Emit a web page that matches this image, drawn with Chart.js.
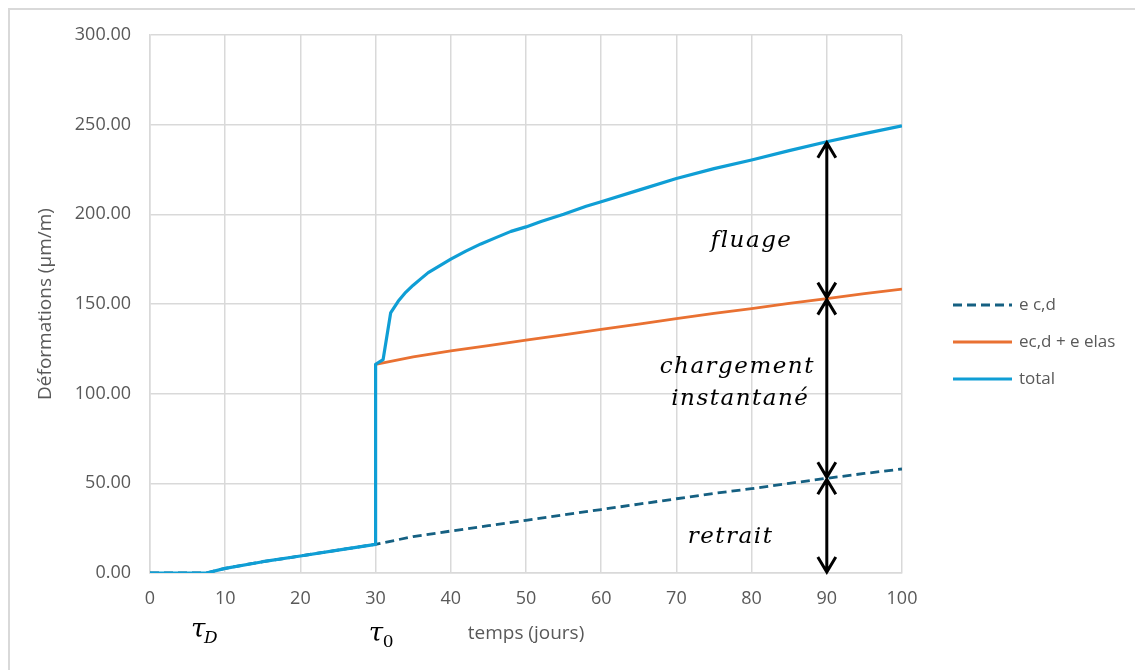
<!DOCTYPE html>
<html lang="fr">
<head>
    <meta charset="UTF-8">
    <title>Déformations</title>
    <script src="https://cdn.jsdelivr.net/npm/chart.js"></script>
    <style>
        body {
            margin: 0;
            background: #fff;
        }
        .conter {
            position: relative;
            width: 1135px;
            height: 670px;
            overflow: hidden;
        }
        /* cadre gris du graphique Excel */
        .cadre {
            position: absolute;
            left: 8px;
            top: 8px;
            width: 1200px;
            height: 700px;
            border-top: 2px solid #d9d9d9;
            border-left: 2px solid #d9d9d9;
            pointer-events: none;
        }
    </style>
</head>
<body>

<div class="conter">
    <canvas id="deformations" width="1135" height="670"></canvas>
    <div class="cadre"></div>
</div>

<script>
    // retrait de dessiccation e c,d (µm/m)
    const joursRetrait = [0, 7.5, 10, 15, 20, 25, 30, 35, 40, 45, 50, 55, 60, 65, 70, 75, 80, 85, 90, 95, 100];
    const eRetrait = [0, 0, 2.6, 6.3, 9.5, 12.8, 16, 20.3, 23.4, 26.4, 29.4, 32.4, 35.4, 38.4, 41.4, 44.4, 47, 50, 52.8, 55.5, 58];

    // retrait + déformation élastique, à partir du chargement
    const joursCharge = [30, 35, 40, 45, 50, 55, 60, 65, 70, 75, 80, 85, 90, 95, 100];
    const eCharge = [116.4, 120.5, 123.8, 126.8, 129.8, 132.8, 135.8, 138.8, 141.8, 144.8, 147.4, 150.3, 153, 155.8, 158.3];

    // déformation totale (retrait + élastique + fluage)
    const joursTotal = [0, 7.5, 10, 15, 20, 25, 30, 30, 31, 32, 33, 34, 35, 36, 37, 38, 40, 42, 44, 46, 48, 50, 52, 55, 58, 60, 65, 70, 75, 80, 85, 90, 95, 100];
    const eTotal = [0, 0, 2.6, 6.3, 9.5, 12.8, 16, 116.4, 119, 145, 151.5, 156.5, 160.5, 164, 167.5, 170, 175, 179.5, 183.5, 187, 190.5, 193, 196, 200, 204.5, 207, 213.5, 220, 225.5, 230.3, 235.5, 240.5, 245, 249.3];

    const xTicks = [0, 10, 20, 30, 40, 50, 60, 70, 80, 90, 100];
    const yTicks = [0, 50, 100, 150, 200, 250, 300];

    const jourFleches = 90;
    const tauD = 7.3;
    const tau0 = 30.7;

    const gris = '#595959';
    const police = "'Open Sans', sans-serif";

    function points(xs, ys) {
        return xs.map((v, i) => ({x: v, y: ys[i]}));
    }

    function valeurA(xs, ys, jour) {
        return ys[xs.lastIndexOf(jour)];
    }

    // flèche verticale à double pointe ouverte
    function fleche(ctx, x, yHaut, yBas) {
        const d = 9, h = 16;
        ctx.beginPath();
        ctx.moveTo(x, yHaut + 1);
        ctx.lineTo(x, yBas - 1);
        ctx.moveTo(x - d, yHaut + h);
        ctx.lineTo(x, yHaut + 1);
        ctx.lineTo(x + d, yHaut + h);
        ctx.moveTo(x - d, yBas - h);
        ctx.lineTo(x, yBas - 1);
        ctx.lineTo(x + d, yBas - h);
        ctx.stroke();
    }

    const annotations = {
        id: 'annotations',
        afterDatasetsDraw(chart) {
            const ctx = chart.ctx;
            const x = chart.scales.x, y = chart.scales.y;
            const px = x.getPixelForValue(jourFleches);
            const y0 = y.getPixelForValue(0);
            const yR = y.getPixelForValue(valeurA(joursRetrait, eRetrait, jourFleches));
            const yC = y.getPixelForValue(valeurA(joursCharge, eCharge, jourFleches));
            const yT = y.getPixelForValue(valeurA(joursTotal, eTotal, jourFleches));

            ctx.save();
            ctx.strokeStyle = '#000';
            ctx.lineWidth = 3;
            ctx.lineJoin = 'miter';
            fleche(ctx, px, yT, yC);
            fleche(ctx, px, yC, yR);
            fleche(ctx, px, yR, y0);

            ctx.fillStyle = '#000';
            ctx.font = "italic 23px 'DejaVu Serif'";
            ctx.letterSpacing = '1.5px';
            ctx.textAlign = 'center';
            ctx.textBaseline = 'middle';
            ctx.fillText('fluage', x.getPixelForValue(80), y.getPixelForValue(185));
            ctx.fillText('chargement', x.getPixelForValue(78.1), y.getPixelForValue(115));
            ctx.fillText('instantané', x.getPixelForValue(78.5), y.getPixelForValue(97));
            ctx.fillText('retrait', x.getPixelForValue(77.2), y.getPixelForValue(20));

            // repères temporels sous l'axe
            ctx.letterSpacing = '0px';
            ctx.textAlign = 'left';
            ctx.textBaseline = 'alphabetic';
            const base = chart.chartArea.bottom + 64;
            let t = x.getPixelForValue(tauD) - 14;
            ctx.font = "italic 26px 'DejaVu Serif'";
            ctx.fillText('τ', t, base);
            ctx.font = "italic 17px 'DejaVu Serif'";
            ctx.fillText('D', t + 13, base + 6);
            t = x.getPixelForValue(tau0) - 12;
            ctx.font = "italic 26px 'DejaVu Serif'";
            ctx.fillText('τ', t, base + 4);
            ctx.font = "17px 'DejaVu Serif'";
            ctx.fillText('0', t + 14, base + 10);
            ctx.restore();
        }
    };

    // légende à droite, façon Excel
    const legende = {
        id: 'legende',
        afterDraw(chart) {
            const ctx = chart.ctx;
            const x0 = 953, longueur = 59, y0 = 305, pas = 37;
            ctx.save();
            ctx.font = '17px ' + police;
            ctx.textBaseline = 'middle';
            chart.data.datasets.forEach((ds, i) => {
                const yy = y0 + i * pas;
                ctx.strokeStyle = ds.borderColor;
                ctx.lineWidth = ds.borderWidth;
                ctx.setLineDash(ds.borderDash || []);
                ctx.beginPath();
                ctx.moveTo(x0, yy);
                ctx.lineTo(x0 + longueur, yy);
                ctx.stroke();
                ctx.fillStyle = gris;
                ctx.fillText(ds.label, x0 + longueur + 7, yy);
            });
            ctx.restore();
        }
    };

    const ctxDef = document.getElementById('deformations').getContext('2d');
    new Chart(ctxDef, {
        type: 'line',
        data: {
            datasets: [{
                label: 'e c,d',
                data: points(joursRetrait, eRetrait),
                borderColor: '#156082',
                borderWidth: 2.8,
                borderDash: [9, 5],
                order: 2
            }, {
                label: 'ec,d + e elas',
                data: points(joursCharge, eCharge),
                borderColor: '#E97132',
                borderWidth: 2.8,
                order: 1
            }, {
                label: 'total',
                data: points(joursTotal, eTotal),
                borderColor: '#0F9ED5',
                borderWidth: 3.2,
                order: 0
            }]
        },
        options: {
            responsive: false,
            animation: false,
            elements: {
                point: {radius: 0},
                line: {tension: 0, borderJoinStyle: 'round'}
            },
            layout: {
                padding: {left: 34, top: 35, right: 233, bottom: 25}
            },
            plugins: {
                legend: {display: false},
                tooltip: {enabled: false}
            },
            scales: {
                x: {
                    type: 'linear',
                    min: 0,
                    max: 100,
                    afterBuildTicks: s => { s.ticks = xTicks.map(v => ({value: v})); },
                    afterFit: s => { s.height = 72; },
                    grid: {color: '#d9d9d9', lineWidth: 1.5, drawTicks: false},
                    border: {color: '#d9d9d9', width: 1.5},
                    ticks: {color: gris, font: {family: police, size: 18}, padding: 15, maxRotation: 0},
                    title: {display: true, text: 'temps (jours)', color: gris, font: {family: police, size: 19}, padding: 0}
                },
                y: {
                    min: 0,
                    max: 300,
                    afterBuildTicks: s => { s.ticks = yTicks.map(v => ({value: v})); },
                    afterFit: s => { s.width = 116; },
                    grid: {color: '#d9d9d9', lineWidth: 1.5, drawTicks: false},
                    border: {color: '#d9d9d9', width: 1.5},
                    ticks: {color: gris, font: {family: police, size: 18}, padding: 19, callback: v => v.toFixed(2)},
                    title: {display: true, text: 'Déformations (µm/m)', color: gris, font: {family: police, size: 19}, padding: 0}
                }
            }
        },
        plugins: [annotations, legende]
    });
</script>

</body>
</html>
